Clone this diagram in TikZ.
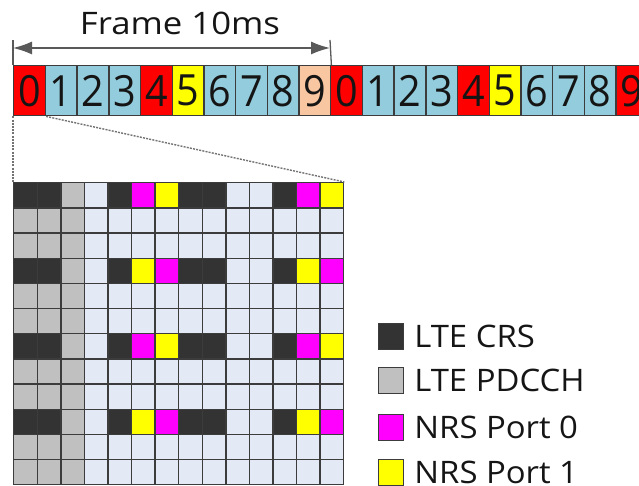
\documentclass[tikz,border=0pt]{standalone}
\usepackage{fontspec}
\setmainfont{Open Sans}
\usetikzlibrary{arrows.meta}

\definecolor{sfred}{HTML}{FF0000}
\definecolor{sfblue}{HTML}{93CDDD}
\definecolor{sfyellow}{HTML}{FFFF00}
\definecolor{sfpeach}{HTML}{F9C6A2}
\definecolor{recrs}{HTML}{333333}
\definecolor{repdcch}{HTML}{C0C0C0}
\definecolor{reempty}{HTML}{E4EAF5}
\definecolor{renrs}{HTML}{FF00FF}
\definecolor{edge}{HTML}{3C3C3C}
\definecolor{ink}{HTML}{151515}

\tikzset{
  subframe/.style={draw=edge, line width=1.4pt, inner sep=0pt, anchor=north west,
    minimum width=31.7pt, minimum height=50pt},
  digit/.style={inner sep=0pt, text=ink, xscale=0.92,
    font=\fontsize{43}{43}\selectfont},
  re/.style={draw=edge, line width=1.4pt, inner sep=0pt, anchor=north west,
    minimum width=23.57pt, minimum height=25.17pt},
  keybox/.style={draw=edge, line width=1.2pt, inner sep=0pt, anchor=north west,
    minimum width=25pt, minimum height=26pt},
  keytext/.style={anchor=west, inner sep=0pt, text=ink, xscale=1.06,
    font=\fontsize{31}{31}\selectfont},
  zoomline/.style={draw=gray!90!black, line width=1.4pt, dash pattern=on 2pt off 1.2pt},
  tick/.style={draw=edge!85, line width=1.3pt},
  span/.style={draw=edge!85, line width=1.4pt, {Latex[length=19pt,width=13pt]}-{Latex[length=19pt,width=13pt]}}
}

\begin{document}
\begin{tikzpicture}[x=1pt,y=-1pt]
\useasboundingbox (0,0) rectangle (639,486);

% two radio frames of ten subframes each
\foreach \i/\d/\c in {0/0/sfred,1/1/sfblue,2/2/sfblue,3/3/sfblue,4/4/sfred,
  5/5/sfyellow,6/6/sfblue,7/7/sfblue,8/8/sfblue,9/9/sfpeach,
  10/0/sfred,11/1/sfblue,12/2/sfblue,13/3/sfblue,14/4/sfred,
  15/5/sfyellow,16/6/sfblue,17/7/sfblue,18/8/sfblue,19/9/sfred}{
  \node[subframe, fill=\c] (sf\i) at ({13+31.7*\i},65) {};
  \node[digit] (d\i) at (sf\i.center) {\d};
}

% frame duration marker
\coordinate (tl) at (13,40);
\coordinate (tr) at (330,40);
\draw[tick] (tl) -- (sf0.north west);
\draw[tick] (tr) -- (sf9.north east);
\coordinate (al) at (13,48);
\coordinate (ar) at (330,48);
\draw[span] (al) -- (ar);
\node[text=ink, xscale=1.12, font=\fontsize{31}{31}\selectfont, anchor=base] (ttl) at (180,35) {Frame 10ms};

% resource grid of subframe 0: 12 subcarriers x 14 symbols
\foreach \r in {0,...,11}{
  \foreach \s in {0,...,13}{
    \pgfmathtruncatemacro{\crsrow}{mod(\r,3)==0 ? 1 : 0}
    \pgfmathtruncatemacro{\alt}{mod(\r,6)==0 ? 1 : 0}
    \def\cc{reempty}
    \ifnum\s<3 \def\cc{repdcch}\fi
    \ifnum\crsrow=1
      \ifnum\s=0 \def\cc{recrs}\fi
      \ifnum\s=1 \def\cc{recrs}\fi
      \ifnum\s=4 \def\cc{recrs}\fi
      \ifnum\s=7 \def\cc{recrs}\fi
      \ifnum\s=8 \def\cc{recrs}\fi
      \ifnum\s=11 \def\cc{recrs}\fi
      \ifnum\alt=1
        \ifnum\s=5 \def\cc{renrs}\fi
        \ifnum\s=6 \def\cc{sfyellow}\fi
        \ifnum\s=12 \def\cc{renrs}\fi
        \ifnum\s=13 \def\cc{sfyellow}\fi
      \else
        \ifnum\s=5 \def\cc{sfyellow}\fi
        \ifnum\s=6 \def\cc{renrs}\fi
        \ifnum\s=12 \def\cc{sfyellow}\fi
        \ifnum\s=13 \def\cc{renrs}\fi
      \fi
    \fi
    \node[re, fill=\cc] (re-\r-\s) at ({13+23.57*\s},{182+25.17*\r}) {};
  }
}

% zoom lines from subframe 0 to the grid
\draw[zoomline] (sf0.south west) -- (re-0-0.north west);
\draw[zoomline] (sf0.south east) -- (re-0-13.north east);

% legend
\node[keybox, fill=recrs] (k1) at (378,323) {};
\node[keytext] (l1) at ([xshift=10pt]k1.east) {LTE CRS};
\node[keybox, fill=repdcch] (k2) at (378,367) {};
\node[keytext] (l2) at ([xshift=10pt]k2.east) {LTE PDCCH};
\node[keybox, fill=renrs] (k3) at (378,414) {};
\node[keytext] (l3) at ([xshift=10pt]k3.east) {NRS Port 0};
\node[keybox, fill=sfyellow] (k4) at (378,459) {};
\node[keytext] (l4) at ([xshift=10pt]k4.east) {NRS Port 1};
\end{tikzpicture}
\end{document}
